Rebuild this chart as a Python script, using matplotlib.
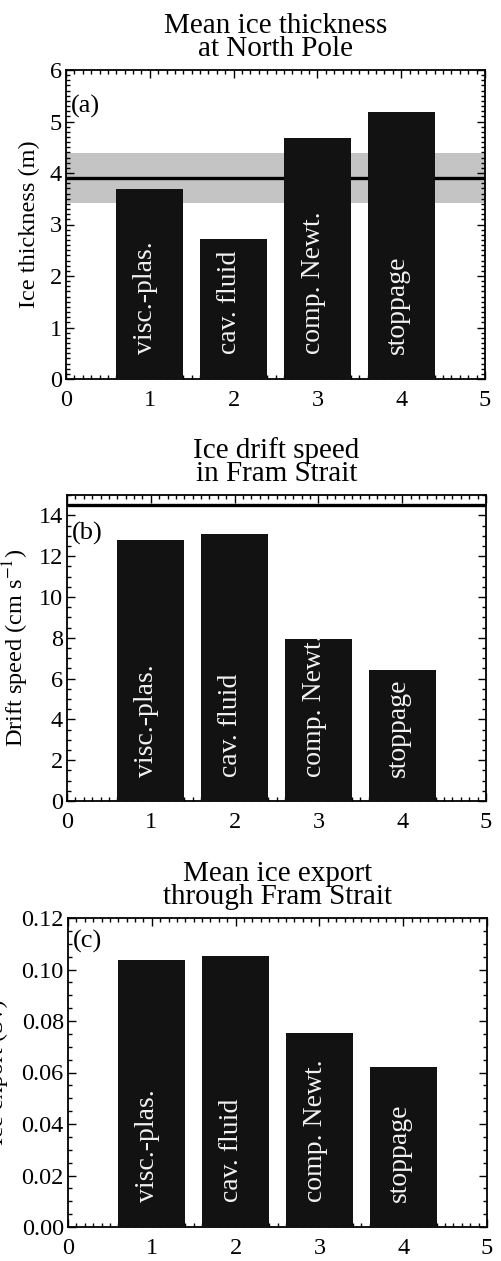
import matplotlib
matplotlib.use("Agg")
import matplotlib.pyplot as plt
from matplotlib.ticker import MultipleLocator, FormatStrFormatter
import matplotlib.transforms as mtransforms

plt.rcParams['font.family'] = ['Liberation Serif', 'DejaVu Serif']
plt.rcParams['mathtext.fontset'] = 'stix'

# ---------------- data ----------------
positions = [1, 2, 3, 4]
models = ["visc.-plas.", "cav. fluid", "comp. Newt.", "stoppage"]

thickness = [3.68, 2.72, 4.68, 5.18]          # m
thickness_obs = 3.9
thickness_obs_low = 3.42
thickness_obs_high = 4.38

drift = [12.8, 13.1, 7.95, 6.4]               # cm/s
drift_obs = 14.5

export = [0.1036, 0.1054, 0.0752, 0.0621]     # Sv

titles = ["Mean ice thickness\nat North Pole",
          "Ice drift speed\nin Fram Strait",
          "Mean ice export\nthrough Fram Strait"]
ylabels = ["Ice thickness (m)", r"Drift speed (cm s$^{-1}$)", "Ice export (Sv)"]
panel_tags = ["(a)", "(b)", "(c)"]
xticks = [0, 1, 2, 3, 4, 5]

# ---------------- figure ----------------
fig = plt.figure(figsize=(5.01, 12.61), dpi=100)
W, H = 501.0, 1261.0

def add_axes(left, top, right, bottom):
    return fig.add_axes([left / W, 1 - bottom / H, (right - left) / W, (bottom - top) / H])

axA = add_axes(66, 70, 485, 379)
axB = add_axes(67, 495, 486, 801)
axC = add_axes(68, 918, 487, 1227)

bar_color = "#121212"

def style(ax, ymax, ymajor, yminor, yfmt=None):
    ax.set_xlim(0, 5)
    ax.set_ylim(0, ymax)
    ax.set_xticks(xticks)
    ax.xaxis.set_minor_locator(MultipleLocator(0.1))
    ax.yaxis.set_major_locator(MultipleLocator(ymajor))
    ax.yaxis.set_minor_locator(MultipleLocator(yminor))
    ax.tick_params(which='both', direction='in', top=True, right=True, width=1.0)
    ax.tick_params(which='major', length=6, labelsize=17.5)
    ax.tick_params(which='minor', length=3)
    ax.tick_params(axis='x', which='major', pad=8)
    ax.tick_params(axis='y', which='major', pad=3)
    for s in ax.spines.values():
        s.set_linewidth(1.3)
    if yfmt:
        ax.yaxis.set_major_formatter(yfmt)

def bars(ax, values):
    ax.bar(positions, values, width=0.8, color=bar_color, zorder=3)
    trans = mtransforms.blended_transform_factory(ax.transData, ax.transAxes)
    for x, lab in zip(positions, models):
        ax.text(x - 0.05, 0.08, lab, rotation=90, color='#f2f2f2', fontsize=20,
                ha='center', va='bottom', transform=trans, zorder=4)

# Panel (a)
style(axA, 6, 1, 0.1)
axA.axhspan(thickness_obs_low, thickness_obs_high, color='#c4c4c4', zorder=1, lw=0)
axA.axhline(thickness_obs, color='black', lw=2.4, zorder=2)
bars(axA, thickness)

# Panel (b)
style(axB, 15, 2, 0.5)
axB.axhline(drift_obs, color='black', lw=2.4, zorder=2)
bars(axB, drift)

# Panel (c)
style(axC, 0.12, 0.02, 0.005, yfmt=FormatStrFormatter('%.2f'))
bars(axC, export)

tag_y = [5.3, 13.1, 0.111]
label_x = [-0.062, -0.085, -0.143]
for ax, title, yl, tag, ty, lx in zip([axA, axB, axC], titles, ylabels, panel_tags, tag_y, label_x):
    ax.set_title(title, fontsize=21, linespacing=0.88, pad=10)
    ax.set_ylabel(yl, fontsize=17.5)
    ax.yaxis.set_label_coords(lx, 0.5)
    ax.text(0.06, ty, tag, fontsize=19, ha='left', va='center', zorder=5)

fig.savefig("out.png", dpi=100)
